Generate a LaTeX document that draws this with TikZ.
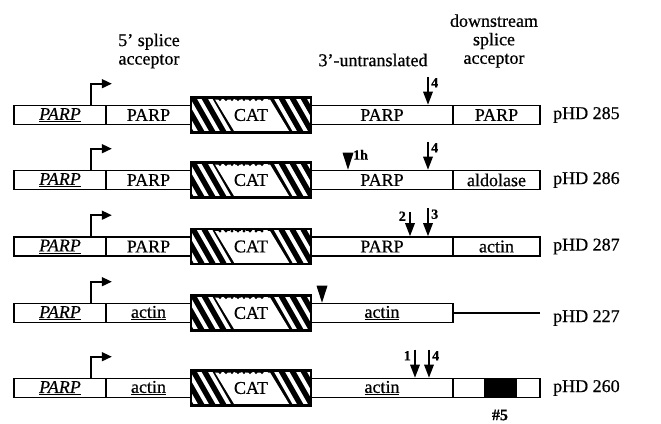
\documentclass[tikz,border=0pt]{standalone}
\usepackage{fontspec}
\setmainfont{Liberation Serif}[FakeBold=0.6]
\usetikzlibrary{arrows.meta}
\begin{document}
\begin{tikzpicture}[x=1pt,y=-1pt,
  txt/.style={font=\fontsize{18}{18.5}\selectfont},
  seg/.style={draw, line width=1.6pt, minimum height=19pt, inner sep=0pt, txt},
  catbox/.style={draw, line width=2.6pt, minimum width=120pt, minimum height=35pt,
    inner sep=0pt, txt,
    path picture={
      \foreach \k in {-4,...,12}
        \draw[line width=5.4pt]
          ([xshift=\k*11pt+2pt]path picture bounding box.north west) -- ++(20pt,-35pt);
      \fill[white] ([xshift=24pt,yshift=-2pt]path picture bounding box.north west)
        -- ([xshift=79pt,yshift=-2pt]path picture bounding box.north west)
        -- ([xshift=99pt]path picture bounding box.south west)
        -- ([xshift=44pt]path picture bounding box.south west) -- cycle;
      \foreach \t in {29,35,...,76}
        \fill ([xshift=\t pt,yshift=-2pt]path picture bounding box.north west) circle (1.7pt);
    }},
  prom/.style={line width=1.6pt, -{Triangle[length=10pt,width=9pt]}},
  cut/.style={line width=1.7pt, -{Triangle[length=13pt,width=9.5pt]}},
  num/.style={font=\fontsize{14}{14}\selectfont\bfseries, inner sep=1pt},
  lab/.style={txt, anchor=west, inner sep=0pt},
  head/.style={txt, align=center, inner sep=0pt}]
\useasboundingbox (0,0) rectangle (661,423);

% column headings
\node[head] (h1) at (149,51) {5' splice\\acceptor};
\node[head] (h2) at (373,60) {3'-untranslated};
\node[head] (h3) at (494,41) {downstream\\splice\\acceptor};

% pHD 285
\node[seg, minimum width=92pt] (a1) at (60,115) {\underline{\textit{PARP}}};
\node[seg, minimum width=85pt] (b1) at (148.5,115) {PARP};
\node[seg, minimum width=142pt] (d1) at (382,115) {PARP};
\node[seg, minimum width=87pt] (e1) at (496.5,115) {PARP};
\node[catbox] (c1) at (251,115) {CAT};
\draw[prom] ([xshift=-16pt]a1.north east) -- ++(0,21pt) -- ++(21pt,0);
\draw[cut] ([xshift=46pt,yshift=28pt]d1.north) -- ([xshift=46pt]d1.north);
\node[num, anchor=west] (n1) at ([xshift=48pt,yshift=22pt]d1.north) {4};
\node[lab] (l1) at (553,115) {pHD 285};

% pHD 286
\node[seg, minimum width=92pt] (a2) at (60,180) {\underline{\textit{PARP}}};
\node[seg, minimum width=85pt] (b2) at (148.5,180) {PARP};
\node[seg, minimum width=142pt] (d2) at (382,180) {PARP};
\node[seg, minimum width=87pt] (e2) at (496.5,180) {aldolase};
\node[catbox] (c2) at (251,180) {CAT};
\draw[prom] ([xshift=-16pt]a2.north east) -- ++(0,21pt) -- ++(21pt,0);
\fill ([xshift=-34pt]d2.north) -- ++(-5.5pt,17pt) -- ++(11pt,0) -- cycle;
\node[num, anchor=west] (n2) at ([xshift=-30pt,yshift=15pt]d2.north) {1h};
\draw[cut] ([xshift=46pt,yshift=28pt]d2.north) -- ([xshift=46pt]d2.north);
\node[num, anchor=west] (n3) at ([xshift=48pt,yshift=22pt]d2.north) {4};
\node[lab] (l2) at (553,180) {pHD 286};

% pHD 287
\node[seg, minimum width=92pt] (a3) at (60,246.5) {\underline{\textit{PARP}}};
\node[seg, minimum width=85pt] (b3) at (148.5,246.5) {PARP};
\node[seg, minimum width=142pt] (d3) at (382,246.5) {PARP};
\node[seg, minimum width=87pt] (e3) at (496.5,246.5) {actin};
\node[catbox] (c3) at (251,246.5) {CAT};
\draw[prom] ([xshift=-16pt]a3.north east) -- ++(0,21pt) -- ++(21pt,0);
\draw[cut] ([xshift=28pt,yshift=24pt]d3.north) -- ([xshift=28pt]d3.north);
\node[num, anchor=east] (n4) at ([xshift=25pt,yshift=20pt]d3.north) {2};
\draw[cut] ([xshift=46pt,yshift=28pt]d3.north) -- ([xshift=46pt]d3.north);
\node[num, anchor=west] (n5) at ([xshift=48pt,yshift=22pt]d3.north) {3};
\node[lab] (l3) at (553,246.5) {pHD 287};

% pHD 227
\node[seg, minimum width=92pt] (a4) at (60,313) {\underline{\textit{PARP}}};
\node[seg, minimum width=85pt] (b4) at (148.5,313) {\underline{actin}};
\node[seg, minimum width=142pt] (d4) at (382,313) {\underline{actin}};
\node[catbox] (c4) at (251,313) {CAT};
\coordinate (t4) at (540,313);
\draw[line width=1.6pt] (d4.east) -- (t4);
\draw[prom] ([xshift=-16pt]a4.north east) -- ++(0,21pt) -- ++(21pt,0);
\fill ([xshift=-60pt]d4.north) -- ++(-5.5pt,17pt) -- ++(11pt,0) -- cycle;
\node[lab] (l4) at (553,318) {pHD 227};

% pHD 260
\node[seg, minimum width=92pt] (a5) at (60,388) {\underline{\textit{PARP}}};
\node[seg, minimum width=85pt] (b5) at (148.5,388) {\underline{actin}};
\node[seg, minimum width=142pt] (d5) at (382,388) {\underline{actin}};
\node[seg, minimum width=87pt] (e5) at (496.5,388) {};
\node[seg, fill=black, minimum width=31pt] (k5) at (500.5,388) {};
\node[catbox] (c5) at (251,388) {CAT};
\draw[prom] ([xshift=-16pt]a5.north east) -- ++(0,21pt) -- ++(21pt,0);
\draw[cut] ([xshift=33pt,yshift=28pt]d5.north) -- ([xshift=33pt]d5.north);
\node[num, anchor=east] (n6) at ([xshift=30pt,yshift=22pt]d5.north) {1};
\draw[cut] ([xshift=47pt,yshift=28pt]d5.north) -- ([xshift=47pt]d5.north);
\node[num, anchor=west] (n7) at ([xshift=49pt,yshift=22pt]d5.north) {4};
\node[txt, font=\fontsize{16}{16}\selectfont\bfseries] (s5) at (500,415) {\#5};
\node[lab] (l5) at (553,388) {pHD 260};
\end{tikzpicture}
\end{document}
